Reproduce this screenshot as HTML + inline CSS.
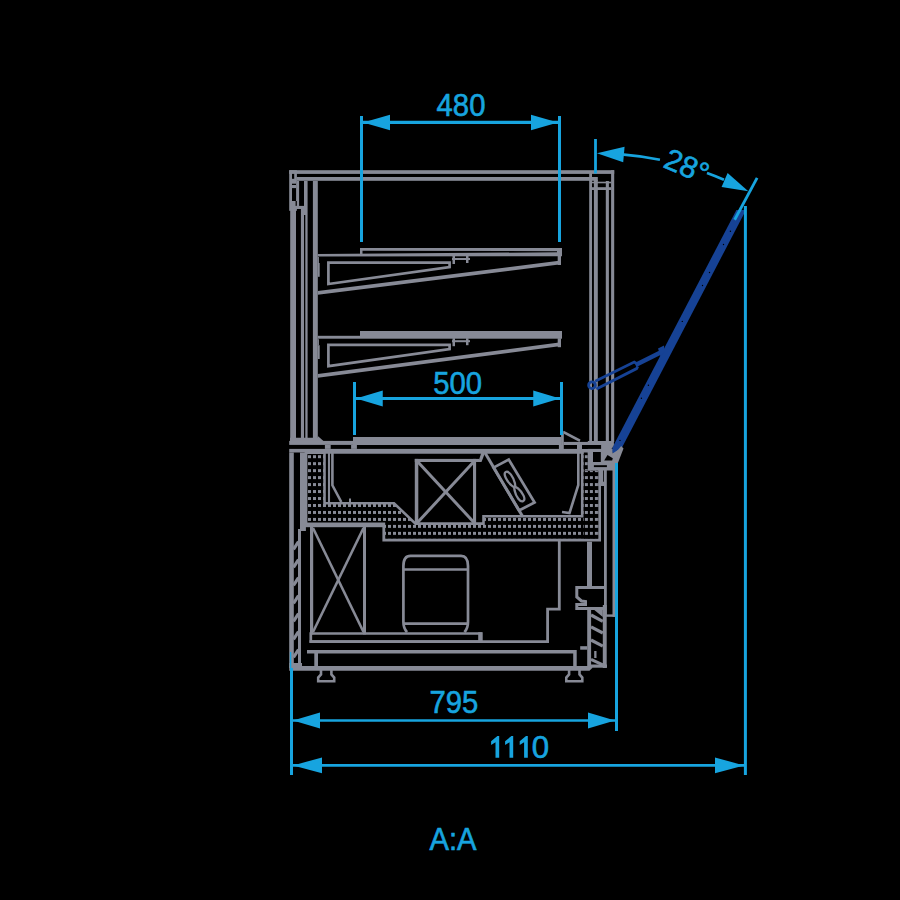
<!DOCTYPE html>
<html><head><meta charset="utf-8"><style>
html,body{margin:0;padding:0;background:#000;}
svg{display:block;}
text{font-family:"Liberation Sans",sans-serif;}
</style></head><body>
<svg width="900" height="900" viewBox="0 0 900 900">
<defs><pattern id="dots" x="308" y="455.2" width="5" height="6.97" patternUnits="userSpaceOnUse"><rect x="0" y="0" width="3" height="3" fill="#878a96"/></pattern><pattern id="dots2" x="584.9" y="455.2" width="5" height="6.97" patternUnits="userSpaceOnUse"><rect x="0" y="0" width="3" height="3" fill="#878a96"/></pattern></defs>
<rect width="900" height="900" fill="#000"/>
<rect x="289.2" y="170.2" width="325" height="3.7" fill="#878a96"/>
<rect x="296.5" y="177" width="301.3" height="3.8" fill="#878a96"/>
<rect x="289.2" y="170.2" width="7.7" height="40.6" fill="#878a96"/>
<rect x="290.2" y="210" width="5.8" height="231" fill="#878a96"/>
<rect x="292" y="173.9" width="2.2" height="4.9" fill="#000"/>
<rect x="292" y="183.7" width="4" height="1.3" fill="#000"/>
<rect x="292" y="188.1" width="4" height="12.9" fill="#000"/>
<rect x="295.6" y="201" width="1.3" height="4.9" fill="#000"/>
<rect x="296.9" y="181" width="2.2" height="28" fill="#878a96"/>
<rect x="296" y="205.9" width="8" height="3.1" fill="#878a96"/>
<rect x="300.9" y="209" width="3.1" height="229" fill="#878a96"/>
<rect x="304" y="181" width="3.6" height="34" fill="#878a96"/>
<rect x="305.3" y="215" width="2.3" height="223" fill="#878a96"/>
<rect x="312.9" y="181" width="4.9" height="257" fill="#878a96"/>
<polygon points="290,437.8 317.8,437.8 317.8,436 323.5,441 290,441" fill="#878a96"/>
<rect x="589.2" y="173" width="2.8" height="268" fill="#878a96"/>
<rect x="593.9" y="180" width="3.9" height="261" fill="#878a96"/>
<rect x="605.8" y="181" width="3.1" height="260" fill="#878a96"/>
<rect x="611.1" y="170.2" width="3.1" height="271.8" fill="#878a96"/>
<rect x="592" y="181.7" width="19.1" height="1.6" fill="#878a96"/>
<rect x="592" y="187.2" width="19.1" height="2.8" fill="#878a96"/>
<polygon points="360,248.1 562,247.9 562,251.2 360,250.8" fill="#878a96"/>
<polygon points="317.8,253.9 557,252.3 562,252.3 562,256.3 317.8,256.6" fill="#878a96"/>
<rect x="360" y="248" width="2.5" height="8" fill="#878a96"/>
<rect x="557" y="248" width="5" height="8" fill="#878a96"/>
<rect x="557.7" y="256" width="3.3" height="9" fill="#878a96"/>
<polygon points="317.8,291.1 561,260.6 561,264.3 317.8,294.8" fill="#878a96"/>
<polygon points="328.4,262.6 449.6,262.6 449.6,267 328.4,284" fill="none" stroke="#878a96" stroke-width="2.7"/>
<rect x="452" y="258" width="18" height="2" fill="#878a96"/>
<rect x="452.5" y="256" width="2.5" height="8" fill="#878a96"/>
<rect x="466" y="256" width="2.5" height="7" fill="#878a96"/>
<rect x="317.8" y="257" width="1.1" height="6" fill="#878a96"/>
<rect x="317.8" y="263" width="1.9" height="13.8" fill="#878a96"/>
<rect x="360" y="331" width="202" height="7.7" fill="#878a96"/>
<rect x="317.8" y="335.8" width="42.2" height="2.9" fill="#878a96"/>
<rect x="557.7" y="338.2" width="3.3" height="9" fill="#878a96"/>
<polygon points="317.8,374 561,342.3 561,346 317.8,377.7" fill="#878a96"/>
<polygon points="328.4,344.8 449.6,344.8 449.6,349.2 328.4,366.2" fill="none" stroke="#878a96" stroke-width="2.7"/>
<rect x="452" y="340.2" width="18" height="2" fill="#878a96"/>
<rect x="452.5" y="338.2" width="2.5" height="8" fill="#878a96"/>
<rect x="466" y="338.2" width="2.5" height="7" fill="#878a96"/>
<rect x="317.8" y="339.2" width="1.1" height="6" fill="#878a96"/>
<rect x="317.8" y="345.2" width="1.9" height="13.8" fill="#878a96"/>
<rect x="353" y="437" width="208.5" height="8" fill="#878a96"/>
<rect x="289.2" y="440.9" width="63.8" height="4" fill="#878a96"/>
<rect x="324.9" y="444.9" width="5.8" height="4" fill="#878a96"/>
<rect x="351.1" y="444.9" width="5.8" height="4" fill="#878a96"/>
<rect x="289.2" y="448.9" width="329.8" height="3.6" fill="#878a96"/>
<rect x="561.1" y="431.2" width="2.7" height="13.8" fill="#878a96"/>
<rect x="558.9" y="445" width="4.9" height="4" fill="#878a96"/>
<polygon points="563.8,430.8 580.5,439.4 579.5,442 563.8,433.8" fill="#878a96"/>
<rect x="563.5" y="441.9" width="41.5" height="3.1" fill="#878a96"/>
<rect x="577" y="445" width="5" height="4" fill="#878a96"/>
<polygon points="306,452.5 306,523.8 383.8,523.8 383.8,540.2 599.6,540.2 599.6,468 589,468 589,452.5" fill="url(#dots)" stroke="#878a96" stroke-width="2.8"/>
<rect x="583.6" y="470.5" width="14.6" height="68.2" fill="#000"/><rect x="583.6" y="470.5" width="14.6" height="68.2" fill="url(#dots2)"/>
<rect x="583.6" y="452.5" width="4.2" height="18" fill="#000"/><rect x="583.6" y="452.5" width="4.2" height="18" fill="url(#dots2)"/>
<polygon points="324.5,452.5 324.5,503.3 394,503.3 415.5,523.6 483.5,523.6 483.5,516.3 582.2,516.3 582.2,452.5" fill="#000" stroke="#878a96" stroke-width="2.6"/>
<line x1="329" y1="452.5" x2="329" y2="502" stroke="#878a96" stroke-width="2.1"/>
<polyline points="332.4,452.5 332.4,485.3 341.3,502" fill="none" stroke="#878a96" stroke-width="2.6"/>
<line x1="350" y1="498.5" x2="350" y2="502" stroke="#878a96" stroke-width="2"/>
<polyline points="578.3,452.5 578.3,485 569.5,513 562,512" fill="none" stroke="#878a96" stroke-width="2.6"/>
<rect x="414.8" y="458.9" width="64.4" height="3.1" fill="#878a96"/>
<rect x="414.8" y="458.9" width="3.5" height="65.8" fill="#878a96"/>
<rect x="473" y="458.9" width="3.1" height="65.8" fill="#878a96"/>
<polygon points="478.3,462 481.2,453 485,453 481.5,462" fill="#878a96"/>
<line x1="417.5" y1="461.5" x2="474" y2="522.5" stroke="#878a96" stroke-width="3"/>
<line x1="417.5" y1="522.5" x2="474" y2="461.5" stroke="#878a96" stroke-width="3"/>
<line x1="485" y1="452.8" x2="522.5" y2="516.3" stroke="#878a96" stroke-width="3"/>
<polygon points="493.5,467.6 508.75,459.6 534.6,502.5 519.05,510.5" fill="none" stroke="#878a96" stroke-width="2.7"/>
<g transform="rotate(-31 514.5 486.5)" fill="none" stroke="#878a96" stroke-width="2.3"><path d="M514.5,469.5 C511,469.5 510.5,478 512.5,484 L513.8,487 L512.5,490 C510.5,496 511,503.5 514.5,503.5 C518,503.5 518.5,496 516.5,490 L515.2,487 L516.5,484 C518.5,478 518,469.5 514.5,469.5 Z"/></g>
<rect x="289.2" y="452.5" width="4.6" height="215.5" fill="#878a96"/>
<rect x="300" y="452.5" width="5.9" height="78.5" fill="#878a96"/>
<rect x="298" y="529" width="3" height="135" fill="#878a96"/>
<line x1="293.5" y1="549.3" x2="298.5" y2="541.7" stroke="#878a96" stroke-width="3.2"/>
<line x1="293.5" y1="567.3" x2="298.5" y2="559.7" stroke="#878a96" stroke-width="3.2"/>
<line x1="293.5" y1="585.3" x2="298.5" y2="577.7" stroke="#878a96" stroke-width="3.2"/>
<line x1="293.5" y1="603.3" x2="298.5" y2="595.7" stroke="#878a96" stroke-width="3.2"/>
<line x1="293.5" y1="621.3" x2="298.5" y2="613.7" stroke="#878a96" stroke-width="3.2"/>
<line x1="293.5" y1="639.3" x2="298.5" y2="631.7" stroke="#878a96" stroke-width="3.2"/>
<line x1="293.5" y1="657.3" x2="298.5" y2="649.7" stroke="#878a96" stroke-width="3.2"/>
<rect x="310" y="525.7" width="3.2" height="108.7" fill="#878a96"/>
<rect x="363" y="525.7" width="3" height="108.7" fill="#878a96"/>
<rect x="301" y="523.8" width="83" height="3.4" fill="#878a96"/>
<line x1="313" y1="528" x2="363.5" y2="632" stroke="#878a96" stroke-width="2.6"/>
<line x1="313" y1="632" x2="363.5" y2="528" stroke="#878a96" stroke-width="2.6"/>
<path d="M410.5,555.8 H461 Q468,555.8 468,566 V622 Q468,628 464.5,632.2 M407,632.2 Q403.4,628 403.4,622 V566 Q403.4,555.8 410.5,555.8" fill="none" stroke="#878a96" stroke-width="2.7"/>
<line x1="403.4" y1="569.5" x2="468" y2="569.5" stroke="#878a96" stroke-width="2.7"/>
<line x1="403.4" y1="623.7" x2="468" y2="623.7" stroke="#878a96" stroke-width="2.7"/>
<polygon points="310.8,633.5 480.5,633.5 480.5,641.5 310.8,641.5" fill="none" stroke="#878a96" stroke-width="2.7"/>
<rect x="478.2" y="632.2" width="4.5" height="8.8" fill="#878a96"/>
<line x1="309.5" y1="641.6" x2="549" y2="641.6" stroke="#878a96" stroke-width="2.8"/>
<polyline points="559.3,540.5 559.3,609.1 547.6,609.1 547.6,643" fill="none" stroke="#878a96" stroke-width="2.8"/>
<rect x="307" y="650" width="268.5" height="3.5" fill="#878a96"/>
<rect x="573.2" y="650" width="3.5" height="17" fill="#878a96"/>
<rect x="314.3" y="652" width="3.7" height="15" fill="#878a96"/>
<polygon points="289.2,666 592.3,666 592.3,668 589.5,670.7 289.2,670.7" fill="#878a96"/>
<rect x="289.2" y="663" width="12.8" height="5" fill="#878a96"/>
<polyline points="321,670 321,674.5 318.2,677.5 318.2,681.3 334.2,681.3 334.2,677.5 331.4,674.5 331.4,670" fill="none" stroke="#878a96" stroke-width="2.6"/>
<polyline points="569.1,670 569.1,674.5 566.3,677.5 566.3,681.3 582.3,681.3 582.3,677.5 579.5,674.5 579.5,670" fill="none" stroke="#878a96" stroke-width="2.6"/>
<rect x="587" y="541.7" width="5" height="45.3" fill="#878a96"/>
<rect x="604" y="452.5" width="2.8" height="163.9" fill="#878a96"/>
<rect x="612.5" y="452.5" width="2.8" height="164.3" fill="#878a96"/>
<rect x="604" y="614.4" width="11.3" height="2.4" fill="#878a96"/>
<rect x="600.5" y="469.5" width="2.7" height="12.7" fill="#878a96"/>
<rect x="598.5" y="481.7" width="7.5" height="4.3" fill="#878a96"/>
<polyline points="605,587.5 576.8,587.5 576.8,597 581.5,601 585.5,601.5 585.5,604.5 576.8,604.5 576.8,608.5 605,608.5" fill="none" stroke="#878a96" stroke-width="3"/>
<rect x="587.2" y="608.5" width="3.9" height="59.5" fill="#878a96"/>
<rect x="602.8" y="605" width="3.9" height="63" fill="#878a96"/>
<line x1="591" y1="615" x2="602.8" y2="621.3" stroke="#878a96" stroke-width="3.2"/>
<line x1="591" y1="626.8" x2="602.8" y2="633" stroke="#878a96" stroke-width="3.2"/>
<line x1="591" y1="640" x2="602.8" y2="646.2" stroke="#878a96" stroke-width="3.2"/>
<line x1="591" y1="659.4" x2="602.8" y2="664.9" stroke="#878a96" stroke-width="3.2"/>
<polygon points="594,609.7 602.8,609.7 602.8,617" fill="#878a96"/>
<rect x="594.2" y="651" width="2.3" height="7" fill="#878a96"/>
<rect x="591" y="664.5" width="16" height="3.2" fill="#878a96"/>
<rect x="580.2" y="646.2" width="7" height="3.5" fill="#878a96"/>
<polygon points="736.4,210 746,210 621.5,448.5 614.5,455 612.3,452 612.4,447.5" fill="#164295"/>
<line x1="635.5" y1="365" x2="662" y2="351.8" stroke="#164295" stroke-width="4.6"/>
<polygon points="658,348.6 664,345.5 664.5,352 660.5,356.5" fill="#164295"/>
<polygon points="615,453.5 621.2,446 623.5,448.5 617.8,463.3 614.5,463.3" fill="#878a96"/>
<circle cx="730.4" cy="231.2" r="0.7" fill="#000"/>
<circle cx="723.5" cy="244.5" r="0.7" fill="#000"/>
<circle cx="709.5" cy="272.5" r="0.7" fill="#000"/>
<circle cx="702.5" cy="285.5" r="0.7" fill="#000"/>
<circle cx="682.3" cy="321.4" r="0.7" fill="#000"/>
<circle cx="648.4" cy="385.3" r="0.7" fill="#000"/>
<circle cx="641.4" cy="398.2" r="0.7" fill="#000"/>
<circle cx="620" cy="440.4" r="0.7" fill="#000"/>
<g fill="none" stroke="#164295" stroke-width="2.8">
<path d="M595.2,381.2 L634.2,362 L636.5,363.4 M596.4,389 L636.6,368.6 L637.8,366.4"/>
<circle cx="592" cy="385.2" r="3.4"/>
</g>
<polygon points="587.8,441.1 613.9,441.1 613.9,445 611.5,449 612.5,453.5 618,450 617.8,463.3 616,470.5 587.8,470.5" fill="#878a96"/>
<rect x="582" y="445" width="19.1" height="3.9" fill="#000"/>
<rect x="593" y="452" width="7.8" height="10" fill="#000"/>
<polygon points="604.2,460.6 607.5,455 612.8,458.3 612.2,460.6" fill="#000"/>
<rect x="593.9" y="465.2" width="13" height="1.9" fill="#000"/>
<line x1="361.5" y1="116" x2="361.5" y2="242" stroke="#17a4df" stroke-width="3"/>
<line x1="559.5" y1="116" x2="559.5" y2="242" stroke="#17a4df" stroke-width="3"/>
<line x1="363" y1="122.4" x2="558" y2="122.4" stroke="#17a4df" stroke-width="3.1"/>
<polygon points="363,122.4 390,114.65 390,130.15" fill="#17a4df"/>
<polygon points="558,122.4 531,114.65 531,130.15" fill="#17a4df"/>
<text x="0" y="0" font-size="30" text-anchor="middle" fill="#17a4df" stroke="#17a4df" stroke-width="0.6" transform="translate(461 115.7) scale(0.975 1.04)" >480</text>
<line x1="354.5" y1="382" x2="354.5" y2="435" stroke="#17a4df" stroke-width="3"/>
<line x1="561.5" y1="382" x2="561.5" y2="435" stroke="#17a4df" stroke-width="3"/>
<line x1="356" y1="398.5" x2="560" y2="398.5" stroke="#17a4df" stroke-width="3.0"/>
<polygon points="356,398.5 382.75,390.5 382.75,406.5" fill="#17a4df"/>
<polygon points="560,398.5 533.25,390.5 533.25,406.5" fill="#17a4df"/>
<text x="0" y="0" font-size="30" text-anchor="middle" fill="#17a4df" stroke="#17a4df" stroke-width="0.6" transform="translate(457.6 394) scale(0.975 1.04)" >500</text>
<line x1="291.5" y1="668" x2="291.5" y2="775" stroke="#17a4df" stroke-width="3"/>
<rect x="289.9" y="652" width="1.4" height="16" fill="#17a4df"/>
<line x1="616.5" y1="463" x2="616.5" y2="731" stroke="#17a4df" stroke-width="3"/>
<line x1="293" y1="720.5" x2="615" y2="720.5" stroke="#17a4df" stroke-width="2.7"/>
<polygon points="293,720.5 320,712.5 320,728.5" fill="#17a4df"/>
<polygon points="615,720.5 588,712.5 588,728.5" fill="#17a4df"/>
<text x="0" y="0" font-size="30" text-anchor="middle" fill="#17a4df" stroke="#17a4df" stroke-width="0.6" transform="translate(453.8 713) scale(0.975 1.04)" >795</text>
<line x1="745.4" y1="206" x2="745.4" y2="775" stroke="#17a4df" stroke-width="3"/>
<line x1="293" y1="765.4" x2="744" y2="765.4" stroke="#17a4df" stroke-width="2.7"/>
<polygon points="293,765.4 322,757.5 322,773.3" fill="#17a4df"/>
<polygon points="744,765.4 715,757.5 715,773.3" fill="#17a4df"/>
<polygon points="497.4,736 499.2,736 499.2,757.7 495.5,757.7 495.5,742.3 491.1,744.9 491.1,741.3" fill="#17a4df"/>
<polygon points="511.4,736 513.2,736 513.2,757.7 509.5,757.7 509.5,742.3 505.1,744.9 505.1,741.3" fill="#17a4df"/>
<polygon points="526,736 527.8,736 527.8,757.7 524.1,757.7 524.1,742.3 519.7,744.9 519.7,741.3" fill="#17a4df"/>
<text x="0" y="0" font-size="30" text-anchor="middle" fill="#17a4df" stroke="#17a4df" stroke-width="0.6" transform="translate(540.5 757.7) scale(1.04 1.04)" >0</text>
<text x="0" y="0" font-size="30" text-anchor="middle" fill="#17a4df" stroke="#17a4df" stroke-width="0.6" transform="translate(453 849.8) scale(0.975 1.04)" >A:A</text>
<line x1="595.5" y1="139" x2="595.5" y2="173.5" stroke="#17a4df" stroke-width="2.8"/>
<line x1="734.67" y1="219.76" x2="757.11" y2="177.89" stroke="#17a4df" stroke-width="2.8"/>
<path d="M621.64,154.35 A326,326 0 0 1 659.94,159.73" fill="none" stroke="#17a4df" stroke-width="2.7"/>
<path d="M707.00,172.96 A326,326 0 0 1 723.93,179.66" fill="none" stroke="#17a4df" stroke-width="2.7"/>
<polygon points="596.92,153.3 624.57,146.77 623.21,162.31" fill="#17a4df"/>
<polygon points="748.3,191.33 727.6,172.97 721.58,186.93" fill="#17a4df"/>
<text x="0" y="10.8" font-size="30" text-anchor="middle" fill="#17a4df" stroke="#17a4df" stroke-width="0.6" transform="translate(687 165.6) rotate(23)">28°</text>
</svg>
</body></html>
